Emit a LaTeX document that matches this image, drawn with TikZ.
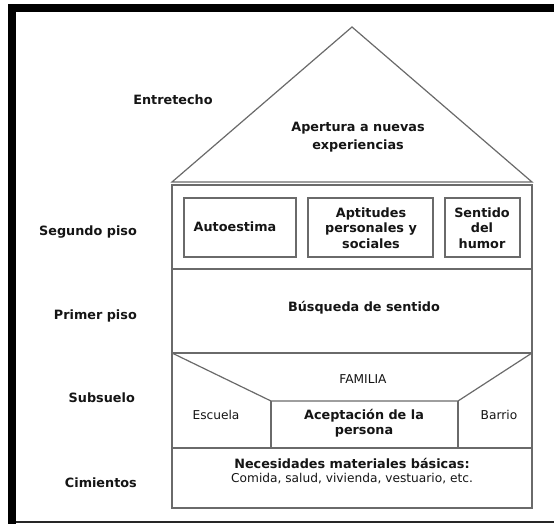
\documentclass[tikz,border=0pt]{standalone}
\usepackage{fontspec}
\setmainfont{DejaVu Sans}
\definecolor{linegray}{HTML}{6A6A6A}
\definecolor{txt}{HTML}{151515}
\begin{document}
\begin{tikzpicture}[x=1pt,y=-1pt,
  wall/.style={draw=linegray, line width=1.2pt},
  bl/.style={font=\fontsize{12.8}{15.5}\selectfont\bfseries, text=txt, align=center, inner sep=0pt},
  rg/.style={font=\fontsize{12.2}{15}\selectfont, text=txt, align=center, inner sep=0pt},
  lab/.style={bl, anchor=east}
  ]
\useasboundingbox (0,0) rectangle (554,524);
\fill[white] (0,0) rectangle (554,524);
% frame
\fill[black] (8,4) rectangle (554,12);
\fill[black] (8,4) rectangle (16,524);
\draw[line width=1.2pt, black!85] (16,522) -- (554,522);
% roof
\draw[wall, line join=miter] (172,182) -- (352,27) -- (532,182) -- cycle;
% body
\draw[wall] (172,185) rectangle (532,508);
\draw[wall] (172,269) -- (532,269);
\draw[wall] (172,353) -- (532,353);
\draw[wall] (172,448) -- (532,448);
% subsuelo trapezoid
\draw[wall] (172,353) -- (271,401) -- (458,401) -- (532,353);
\draw[wall] (271,401) -- (271,448);
\draw[wall] (458,401) -- (458,448);
% boxes of segundo piso
\draw[wall] (184,198) rectangle (296,257);
\draw[wall] (308,198) rectangle (433,257);
\draw[wall] (445,198) rectangle (520,257);
% side labels
\node[bl] (entretecho) at (173,100) {Entretecho};
\node[lab] (segundo) at (137,232) {Segundo piso};
\node[lab] (primer) at (137,316) {Primer piso};
\node[lab] (subsuelo) at (135,398) {Subsuelo};
\node[lab] (cimientos) at (137,483) {Cimientos};
% contents
\node[bl, font=\fontsize{12.8}{17.5}\selectfont\bfseries] (apertura) at (358,137) {Apertura a nuevas\\experiencias};
\node[bl] (autoestima) at (235,227) {Autoestima};
\node[bl] (aptitudes) at (371,228) {Aptitudes\\personales y\\sociales};
\node[bl] (humor) at (482,228) {Sentido\\del\\humor};
\node[bl] (busqueda) at (364,308) {Búsqueda de sentido};
\node[rg] (familia) at (363,379) {FAMILIA};
\node[rg] (escuela) at (216,415) {Escuela};
\node[bl] (aceptacion) at (364,423) {Aceptación de la\\persona};
\node[rg] (barrio) at (499,415) {Barrio};
\node[bl] (necesidades) at (352,463) {Necesidades materiales básicas:};
\node[rg] (comida) at (352,479) {Comida, salud, vivienda, vestuario, etc.};
\end{tikzpicture}
\end{document}
